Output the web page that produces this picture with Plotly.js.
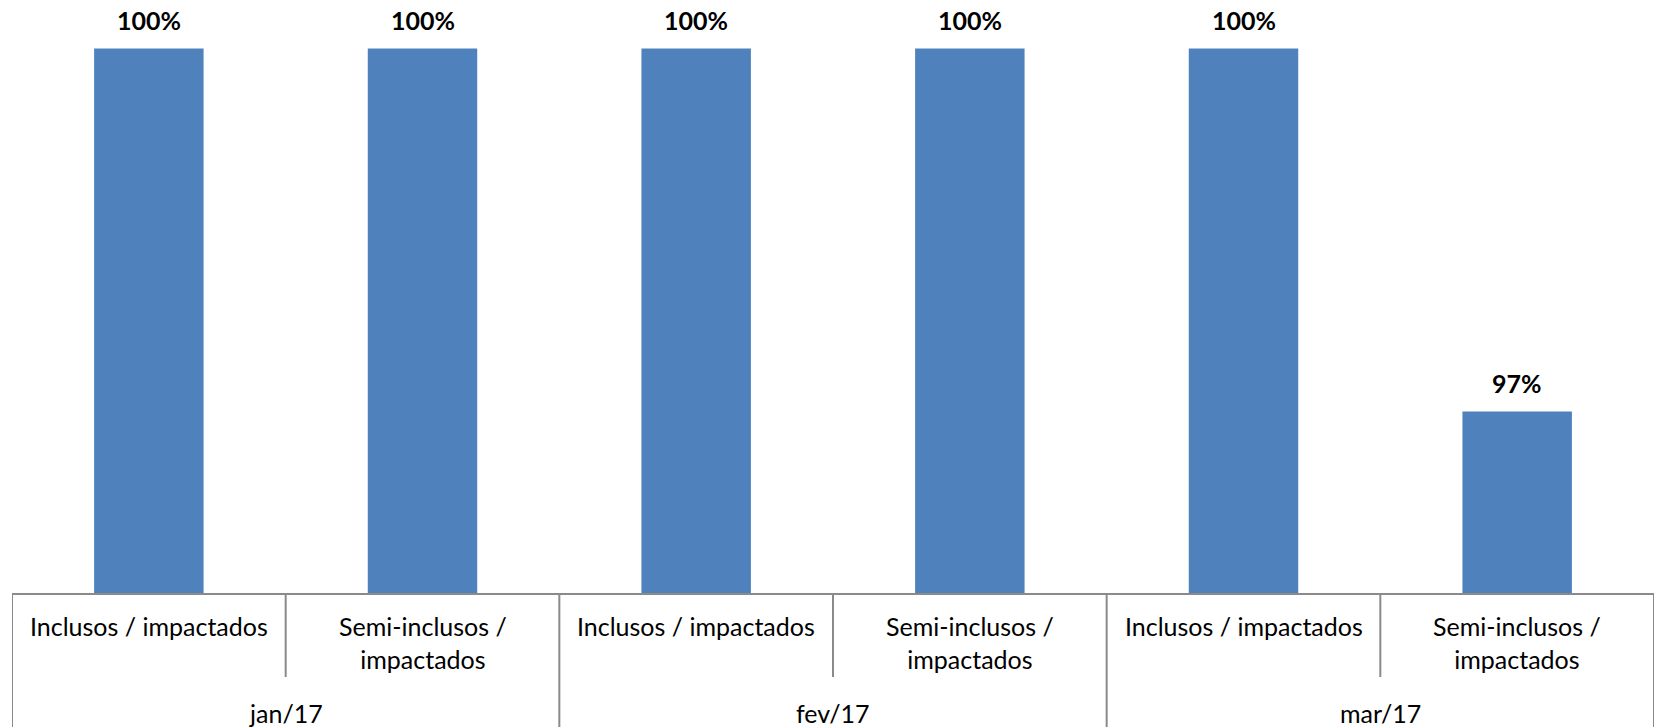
<!DOCTYPE html>
<html>
<head>
<meta charset="utf-8">
<script src="https://cdn.plot.ly/plotly-3.0.1.min.js"></script>
<style>html,body{margin:0;padding:0;background:#fff;}#chart{width:1656px;height:727px;}</style>
</head>
<body>
<div id="chart"></div>
<script>
// Data
const months = ["jan/17", "fev/17", "mar/17"];
const subcats = ["Inclusos / impactados", "Semi-inclusos /<br>impactados"];
const values = [100, 100, 100, 100, 100, 97];

const labelsSub = [];
const labelsMonth = [];
months.forEach(m => subcats.forEach(s => { labelsMonth.push(m); labelsSub.push(s); }));
const xIdx = values.map((_, i) => i);

const lineColor = "#8a8a8a";
const fontFam = "Lato, 'Open Sans', sans-serif";

const annotations = [];
labelsSub.forEach((s, i) => {
  annotations.push({
    x: i, xref: "x", y: 0, yref: "paper", yanchor: "top", yshift: -16,
    text: s, showarrow: false, font: {family: fontFam, size: 25, color: "#000"}
  });
});
months.forEach((m, g) => {
  const n = subcats.length;
  annotations.push({
    x: g * n + (n - 1) / 2, xref: "x", y: 0, yref: "paper", yanchor: "middle", yshift: -120,
    text: m, showarrow: false, font: {family: fontFam, size: 25, color: "#000"}
  });
});
// data labels above bars
values.forEach((v, i) => {
  annotations.push({
    x: i, xref: "x", y: v, yref: "y", yanchor: "middle", yshift: 28,
    text: "<b>" + v + "%</b>", showarrow: false,
    font: {family: fontFam, size: 25, color: "#000"}
  });
});

const shapes = [];
const H = 593;
for (let i = 0; i <= values.length; i++) {
  const outer = (i % subcats.length === 0);
  shapes.push({
    type: "line", xref: "x", yref: "paper",
    x0: i - 0.5, x1: i - 0.5, y0: 0, y1: outer ? -134 / H : -84 / H,
    line: {color: lineColor, width: 2}
  });
}

const trace = {
  type: "bar",
  x: xIdx,
  y: values,
  marker: {color: "#4F81BD"},
  cliponaxis: false,
  hoverinfo: "skip"
};

const layout = {
  width: 1656, height: 727,
  margin: {l: 12, r: 2, t: 0, b: 134},
  paper_bgcolor: "#fff", plot_bgcolor: "#fff",
  bargap: 0.6,
  showlegend: false,
  xaxis: {
    range: [-0.5, values.length - 0.5],
    showticklabels: false, ticks: "", showgrid: false, zeroline: false,
    showline: true, linecolor: lineColor, linewidth: 2
  },
  yaxis: {
    range: [95.5, 100.4],
    visible: false, showgrid: false, zeroline: false
  },
  annotations: annotations,
  shapes: shapes,
  font: {family: fontFam}
};

Plotly.newPlot("chart", [trace], layout, {staticPlot: true, displayModeBar: false});
</script>
</body>
</html>
